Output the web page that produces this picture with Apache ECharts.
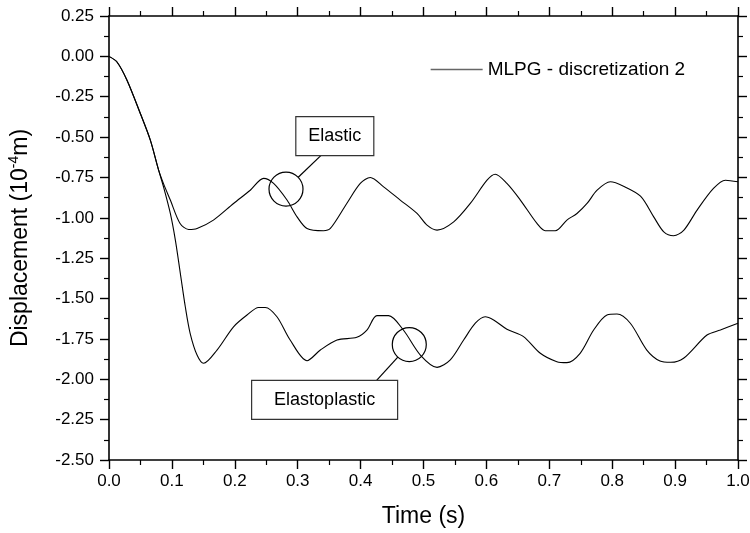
<!DOCTYPE html>
<html>
<head>
<meta charset="utf-8">
<script src="https://cdn.jsdelivr.net/npm/echarts@6/dist/echarts.min.js"></script>
<style>
html,body{margin:0;padding:0;background:#fff;}
#main{width:750px;height:533px;}
</style>
</head>
<body>
<div id="main"></div>
<script>
// ---- Data ----
var elasticTime = [0, 0.0127, 0.0286, 0.0498, 0.0657, 0.0789, 0.0868, 0.0975, 0.113, 0.1266, 0.14, 0.166, 0.198, 0.2246, 0.2458, 0.2617, 0.283, 0.299, 0.3148, 0.341, 0.3519, 0.378, 0.3995, 0.4154, 0.4366, 0.463, 0.4897, 0.5056, 0.5215, 0.548, 0.5744, 0.601, 0.614, 0.6326, 0.654, 0.6804, 0.6936, 0.7095, 0.728, 0.744, 0.76, 0.776, 0.797, 0.818, 0.845, 0.866, 0.882, 0.8976, 0.914, 0.935, 0.961, 0.98, 1.0];
var elasticDisp = [0, -0.035, -0.148, -0.354, -0.519, -0.705, -0.79, -0.89, -1.035, -1.072, -1.066, -1.014, -0.911, -0.829, -0.756, -0.787, -0.89, -0.994, -1.066, -1.08, -1.066, -0.911, -0.787, -0.75, -0.808, -0.89, -0.973, -1.045, -1.076, -1.025, -0.911, -0.767, -0.73, -0.787, -0.89, -1.035, -1.08, -1.08, -1.014, -0.973, -0.911, -0.829, -0.777, -0.804, -0.866, -0.994, -1.087, -1.111, -1.076, -0.952, -0.818, -0.767, -0.777];

var plasticTime = [0, 0.0127, 0.0286, 0.0498, 0.0657, 0.0789, 0.0868, 0.0975, 0.1055, 0.1134, 0.1213, 0.129, 0.14, 0.1504, 0.1717, 0.198, 0.2194, 0.2379, 0.2485, 0.267, 0.288, 0.3148, 0.336, 0.3625, 0.394, 0.41, 0.426, 0.4445, 0.468, 0.495, 0.5215, 0.5426, 0.5638, 0.5824, 0.598, 0.6115, 0.6326, 0.659, 0.6857, 0.712, 0.728, 0.749, 0.7705, 0.7917, 0.8076, 0.8288, 0.855, 0.876, 0.893, 0.9135, 0.9507, 0.972, 1.0];
var plasticDisp = [0, -0.035, -0.148, -0.354, -0.519, -0.705, -0.81, -0.973, -1.138, -1.344, -1.551, -1.715, -1.85, -1.901, -1.819, -1.675, -1.602, -1.555, -1.555, -1.613, -1.757, -1.885, -1.819, -1.757, -1.74, -1.695, -1.606, -1.606, -1.695, -1.85, -1.926, -1.88, -1.757, -1.653, -1.613, -1.633, -1.69, -1.736, -1.839, -1.891, -1.897, -1.839, -1.695, -1.602, -1.596, -1.653, -1.819, -1.887, -1.895, -1.87, -1.726, -1.695, -1.653];

var xTicks = [0.0, 0.1, 0.2, 0.3, 0.4, 0.5, 0.6, 0.7, 0.8, 0.9, 1.0];
var yTicks = [0.25, 0.00, -0.25, -0.50, -0.75, -1.00, -1.25, -1.50, -1.75, -2.00, -2.25, -2.50];
var legendName = 'MLPG - discretization 2';

// annotation anchors in data coordinates
var elasticCircle = [0.2814, -0.822];
var elasticBox = [0.359, -0.494];
var plasticCircle = [0.4774, -1.785];
var plasticBox = [0.3428, -2.128];

function zip(a, b) { return a.map(function (v, i) { return [v, b[i]]; }); }

var FONT = 'Arial, "Liberation Sans", sans-serif';
var chart = echarts.init(document.getElementById('main'), null, {renderer: 'canvas'});

var axisLine = {show: true, onZero: false, lineStyle: {color: '#000', width: 1.6}};
var majorTick = {show: true, inside: false, length: 9, lineStyle: {color: '#000', width: 1.4}};
var minorTick = {show: true, splitNumber: 2, length: 5, lineStyle: {color: '#000', width: 1.2}};

var option = {
  backgroundColor: '#fff',
  animation: false,
  grid: {left: 109, right: 12, top: 16, bottom: 73, containLabel: false, outerBoundsMode: 'none'},
  legend: {
    show: true,
    data: [legendName],
    left: 430, top: 60, padding: 0,
    itemWidth: 52, itemHeight: 14, itemGap: 5,
    itemStyle: {opacity: 0},
    lineStyle: {color: '#666', width: 1.3, opacity: 1},
    textStyle: {fontFamily: FONT, fontSize: 19, color: '#000'}
  },
  xAxis: [{
    type: 'value', min: 0, max: 1, interval: 0.1, position: 'bottom',
    axisLine: axisLine, axisTick: majorTick, minorTick: minorTick,
    splitLine: {show: false}, minorSplitLine: {show: false},
    axisLabel: {fontFamily: FONT, fontSize: 17, color: '#000', margin: 13,
      formatter: function (v) { return v.toFixed(1); }},
    name: 'Time (s)', nameLocation: 'middle', nameGap: 45,
    nameTextStyle: {fontFamily: FONT, fontSize: 23, color: '#000'}
  }, {
    type: 'value', min: 0, max: 1, interval: 0.1, position: 'top',
    axisLine: axisLine, axisTick: majorTick, minorTick: minorTick,
    splitLine: {show: false}, axisLabel: {show: false}
  }],
  yAxis: [{
    type: 'value', min: -2.5, max: 0.25, interval: 0.25, position: 'left',
    axisLine: axisLine, axisTick: majorTick, minorTick: minorTick,
    splitLine: {show: false}, minorSplitLine: {show: false},
    axisLabel: {fontFamily: FONT, fontSize: 17, color: '#000', margin: 15,
      formatter: function (v) { return v.toFixed(2); }},
    name: '{n|Displacement (10}{s|-4}{n|m)}', nameLocation: 'middle', nameGap: 74, nameRotate: 90,
    nameTextStyle: {fontFamily: FONT, fontSize: 23, color: '#000',
      rich: {n: {fontFamily: FONT, fontSize: 23, color: '#000', lineHeight: 28},
             s: {fontFamily: FONT, fontSize: 14, color: '#000', verticalAlign: 'top', lineHeight: 14}}}
  }, {
    type: 'value', min: -2.5, max: 0.25, interval: 0.25, position: 'right',
    axisLine: axisLine, axisTick: majorTick, minorTick: minorTick,
    splitLine: {show: false}, axisLabel: {show: false}
  }],
  series: [{
    name: legendName, type: 'line', xAxisIndex: 0, yAxisIndex: 0,
    data: zip(elasticTime, elasticDisp), symbol: 'none', smooth: 0.3,
    lineStyle: {color: '#000', width: 1.1}, itemStyle: {color: '#000'}
  }, {
    name: legendName, type: 'line', xAxisIndex: 0, yAxisIndex: 0,
    data: zip(plasticTime, plasticDisp), symbol: 'none', smooth: 0.3,
    lineStyle: {color: '#000', width: 1.1}, itemStyle: {color: '#000'}
  }]
};
chart.setOption(option);

function px(p) { return chart.convertToPixel({gridIndex: 0}, p); }
function annotation(circleData, boxData, text, w, h, anchorDx, anchorTop) {
  var c = px(circleData), b = px(boxData), r = 17;
  var ax = b[0] + anchorDx, ay = anchorTop ? b[1] - h / 2 : b[1] + h / 2;
  var dx = ax - c[0], dy = ay - c[1], d = Math.sqrt(dx * dx + dy * dy);
  var sx = c[0] + dx / d * r, sy = c[1] + dy / d * r;
  return [
    {type: 'circle', shape: {cx: c[0], cy: c[1], r: r}, style: {fill: 'none', stroke: '#000', lineWidth: 1.2}, z: 100},
    {type: 'line', shape: {x1: sx, y1: sy, x2: ax, y2: ay}, style: {stroke: '#000', lineWidth: 1.2}, z: 100},
    {type: 'rect', shape: {x: b[0] - w / 2, y: b[1] - h / 2, width: w, height: h}, style: {fill: '#fff', stroke: '#333', lineWidth: 1.2}, z: 100},
    {type: 'text', x: b[0], y: b[1], style: {text: text, fill: '#000', font: '18px ' + FONT, align: 'center', verticalAlign: 'middle'}, z: 101}
  ];
}
var els = annotation(elasticCircle, elasticBox, 'Elastic', 78, 39, -14, false)
  .concat(annotation(plasticCircle, plasticBox, 'Elastoplastic', 146, 39, 52, true));
chart.setOption({graphic: {elements: els}});
</script>
</body>
</html>
